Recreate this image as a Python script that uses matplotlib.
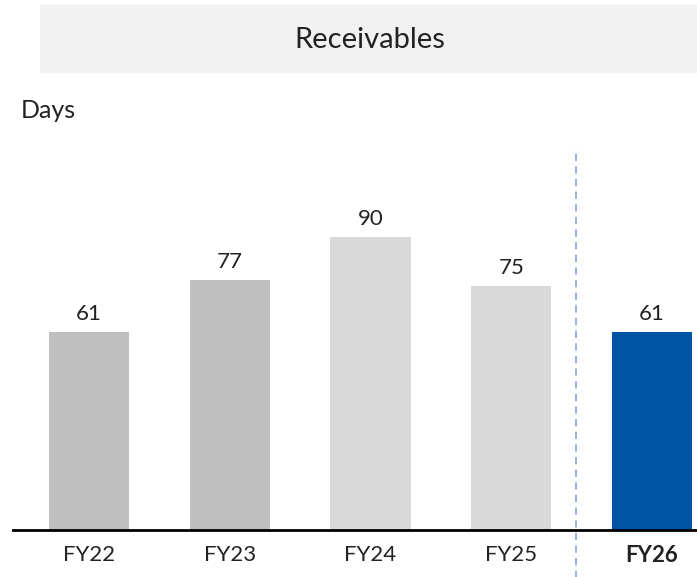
import matplotlib
matplotlib.use("Agg")
import matplotlib.pyplot as plt
from matplotlib.patches import Rectangle

plt.rcParams['font.family'] = ['Lato', 'DejaVu Sans']

# data
years = ['FY22', 'FY23', 'FY24', 'FY25', 'FY26']
days = [61, 77, 90, 75, 61]
bar_colors = ['#bfbfbf', '#bfbfbf', '#d9d9d9', '#d9d9d9', '#0054a6']

W, H = 697, 577
fig = plt.figure(figsize=(W / 100, H / 100), dpi=100)

# grey title band
fig.patches.append(Rectangle((40 / W, 1 - 73 / H), (W - 40) / W, 68 / H,
                             transform=fig.transFigure, facecolor='#f2f2f2',
                             edgecolor='none', zorder=0))
fig.text(370 / W, 1 - 40 / H, 'Receivables', ha='center', va='center',
         fontsize=21, color='#222222')
fig.text(21 / W, 1 - 111 / H, 'Days', ha='left', va='center',
         fontsize=18, color='#222222')

# axes: baseline at y=530, top at y=148
ax = fig.add_axes([13 / W, 1 - 530 / H, (W - 13) / W, (530 - 148) / H])
x = list(range(len(years)))
bars = ax.bar(x, days, width=0.57, color=bar_colors, zorder=2)
for b, v in zip(bars, days):
    ax.text(b.get_x() + b.get_width() / 2, v + 2.5, str(v), ha='center',
            va='bottom', fontsize=16, color='#222222')

ax.set_xlim(-0.54, 4.32)
ax.set_ylim(0, 117.5)
ax.set_xticks(x)
ax.set_xticklabels(years, fontsize=16, color='#222222')
ax.get_xticklabels()[-1].set_fontweight('bold')
ax.tick_params(axis='x', length=0, pad=11)
ax.set_yticks([])
for s in ['left', 'right', 'top']:
    ax.spines[s].set_visible(False)
ax.spines['bottom'].set_linewidth(2)
ax.spines['bottom'].set_color('black')

# dashed separator before the forecast year
ax.plot([3.46, 3.46], [-15, 117.5], linestyle=(0, (4, 3)), color='#8eaadb',
        linewidth=1.3, clip_on=False, zorder=1)

fig.savefig('out.png', dpi=100)
